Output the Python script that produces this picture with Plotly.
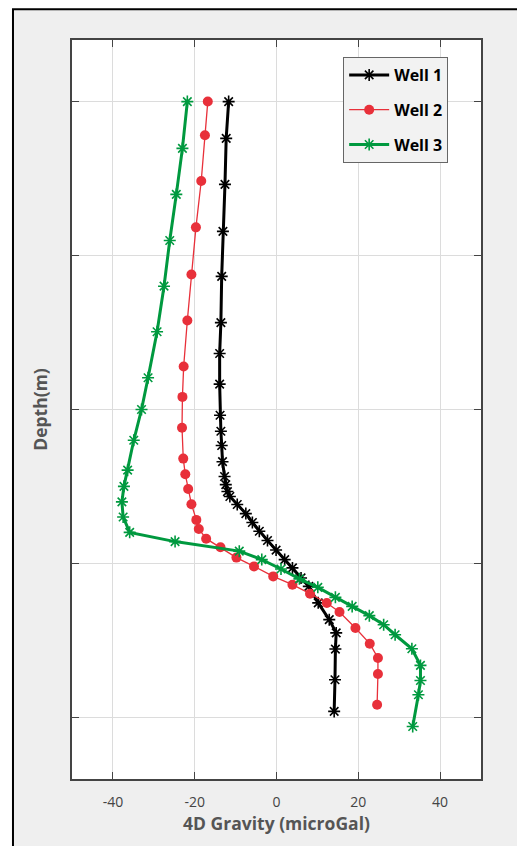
import plotly.graph_objects as go

# Well 1 (black)
well1_gravity = [-11.7, -12.3, -12.6, -13.1, -13.4, -13.6, -13.9, -13.9, -13.8, -13.6,
                 -13.4, -13.2, -12.7, -12.4, -12.0, -11.4, -9.6, -7.5, -5.9, -4.2,
                 -2.2, -0.1, 2.0, 3.9, 6.0, 7.9, 10.2, 12.9, 14.6, 14.4, 14.3, 14.1]
well1_depth = [0, 23.9, 53.8, 84.3, 113.5, 143.6, 163.6, 183.5, 203.7, 214.1,
               223.4, 233.9, 243.5, 248.8, 253.3, 256.5, 261.7, 267.6, 273.4, 279.1,
               285.1, 291.3, 297.5, 302.9, 309.4, 314.9, 325.6, 336.5, 345.1, 355.6, 375.5, 396.1]

# Well 2 (red)
well2_gravity = [-16.8, -17.5, -18.4, -19.7, -20.8, -21.8, -22.7, -23.0, -23.1, -22.8,
                 -22.3, -21.6, -20.8, -19.6, -19.0, -17.2, -13.7, -9.8, -5.5, -0.8,
                 3.9, 8.2, 12.3, 15.4, 19.3, 22.8, 24.8, 24.8, 24.6]
well2_depth = [0, 21.9, 51.6, 81.7, 112.3, 142.2, 172.1, 191.8, 211.9, 231.9,
               242.1, 251.6, 261.5, 271.7, 277.6, 283.9, 289.5, 296.2, 301.9, 308.4,
               313.8, 319.6, 325.7, 331.5, 341.9, 352.1, 361.4, 371.8, 391.8]

# Well 3 (green)
well3_gravity = [-21.8, -23.0, -24.5, -26.1, -27.5, -29.2, -31.4, -33.0, -34.9, -36.4,
                 -37.3, -37.8, -37.5, -35.9, -24.8, -9.1, -3.6, 1.1, 5.6, 10.1,
                 14.4, 18.5, 22.7, 26.2, 29.0, 33.1, 35.2, 35.2, 34.7, 33.3]
well3_depth = [0, 30.4, 60.3, 90.2, 119.9, 149.5, 179.4, 200.0, 220.0, 239.4,
               249.9, 260.0, 269.8, 279.8, 285.8, 292.0, 297.5, 303.6, 310.0, 315.5,
               322.0, 327.9, 333.9, 339.8, 346.3, 355.4, 366.2, 376.0, 385.3, 405.9]

x_ticks = [-40, -20, 0, 20, 40]
depth_ticks = [0, 100, 200, 300, 400]

fig = go.Figure()
fig.add_trace(go.Scatter(
    x=well1_gravity, y=well1_depth, name="Well 1", mode="lines+markers",
    legendgroup="w1",
    line=dict(color="black", width=3),
    marker=dict(symbol="asterisk-open", size=10, color="black", line=dict(color="black", width=1.6)),
))
fig.add_trace(go.Scatter(
    x=well2_gravity, y=well2_depth, name="Well 2", mode="lines+markers",
    legendgroup="w2",
    line=dict(color="#e8303a", width=1.3),
    marker=dict(symbol="circle", size=10, color="#e8303a", line=dict(color="#e8303a", width=0)),
))
fig.add_trace(go.Scatter(
    x=well3_gravity, y=well3_depth, name="Well 3", mode="lines+markers",
    legendgroup="w3",
    line=dict(color="#00993f", width=3),
    marker=dict(symbol="asterisk-open", size=10, color="#00993f", line=dict(color="#00993f", width=1.6)),
))

axis_common = dict(
    showline=True, linecolor="#444444", linewidth=1.5, mirror="ticks",
    ticks="inside", ticklen=7, tickcolor="#444444", tickwidth=1,
    showgrid=True, gridcolor="#dcdcdc", gridwidth=1, zeroline=False,
)

fig.update_xaxes(
    range=[-50, 50], tickvals=x_ticks, ticktext=[str(v) for v in x_ticks],
    tickfont=dict(family="Open Sans", size=14, color="#444444"),
    ticklabelstandoff=9,
    title=dict(text="4D Gravity (microGal)", standoff=6,
               font=dict(family="Open Sans", size=17.5, color="#555555", weight="bold")),
    **axis_common,
)
fig.update_yaxes(
    range=[440, -40], tickvals=depth_ticks, showticklabels=False,
    title=dict(text="Depth(m)", standoff=18,
               font=dict(family="Open Sans", size=17.5, color="#555555", weight="bold")),
    **axis_common,
)

# white strips outside the framed grey panel
for (x0, x1, y0, y1) in [(-0.2, -0.1443, -0.2, 1.2), (1.0929, 1.2, -0.2, 1.2), (-0.2, 1.2, 1.0415, 1.2)]:
    fig.add_shape(type="rect", xref="paper", yref="paper", x0=x0, x1=x1, y0=y0, y1=y1,
                  line=dict(width=0), fillcolor="white", layer="above")
fig.add_shape(type="rect", xref="paper", yref="paper",
              x0=-0.1443, x1=1.0929, y0=-0.12, y1=1.0415,
              line=dict(color="black", width=2), fillcolor="rgba(0,0,0,0)", layer="above")

fig.update_layout(
    width=517, height=838,
    margin=dict(l=64, r=44, t=32, b=67),
    paper_bgcolor="#efefef", plot_bgcolor="white",
    showlegend=True,
    legend=dict(
        x=0.663, y=0.977, xanchor="left", yanchor="top",
        bgcolor="#f2f2f2", bordercolor="#666666", borderwidth=1,
        font=dict(family="Open Sans", size=16, color="black", weight="bold"),
        tracegroupgap=11, itemwidth=40,
    ),
)

fig.write_html("out.html")
